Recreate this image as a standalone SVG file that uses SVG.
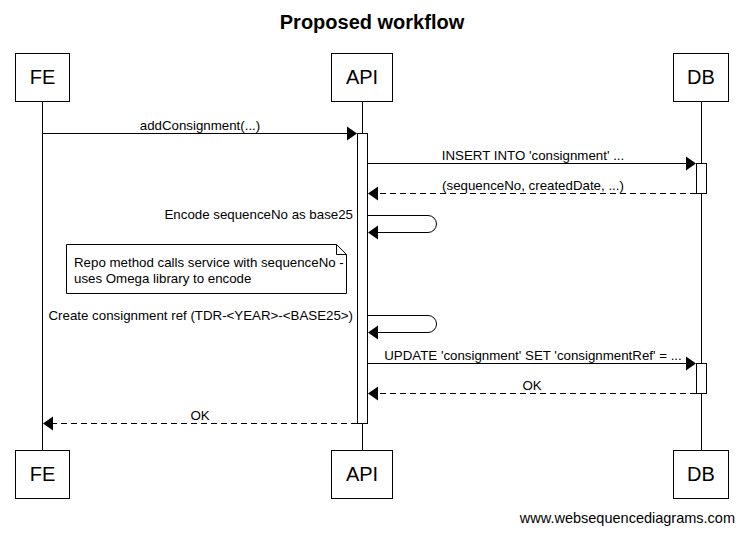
<svg xmlns="http://www.w3.org/2000/svg" width="743" height="533" viewBox="0 0 743 533">
<style>
text{font-family:"Liberation Sans",Arial,sans-serif;fill:#000}
.p{font-size:20px;text-anchor:middle}
.m{font-size:13.3px}
.box{fill:#fff;stroke:#000;stroke-width:1}
.ll{stroke:#000;stroke-width:1}
.s{stroke:#000;stroke-width:1;fill:none}
.d{stroke:#000;stroke-width:1;fill:none;stroke-dasharray:6,4}
.ah{fill:#000}
</style>
<rect width="743" height="533" fill="#fff"/>
<text x="372" y="29" style="font-size:20px;font-weight:bold;text-anchor:middle">Proposed workflow</text>
<g id="lifelines">
<line class="ll" x1="42.5" y1="101" x2="42.5" y2="450"/>
<line class="ll" x1="362.5" y1="101" x2="362.5" y2="450"/>
<line class="ll" x1="701.5" y1="101" x2="701.5" y2="450"/>
</g>
<g id="FE">
<rect class="box" x="15.5" y="53.5" width="54" height="48"/>
<text class="p" x="42.5" y="84">FE</text>
<rect class="box" x="15.5" y="450.5" width="54" height="48"/>
<text class="p" x="42.5" y="481">FE</text>
</g>
<g id="API">
<rect class="box" x="331.5" y="53.5" width="61" height="48"/>
<text class="p" x="362" y="84">API</text>
<rect class="box" x="331.5" y="450.5" width="61" height="48"/>
<text class="p" x="362" y="481">API</text>
<rect class="box" x="357.5" y="133.5" width="10" height="290"/>
</g>
<g id="DB">
<rect class="box" x="673.5" y="53.5" width="55" height="48"/>
<text class="p" x="701" y="84">DB</text>
<rect class="box" x="673.5" y="450.5" width="55" height="48"/>
<text class="p" x="701" y="481">DB</text>
<rect class="box" x="696.5" y="163.5" width="10" height="30"/>
<rect class="box" x="696.5" y="363.5" width="10" height="30"/>
</g>
<g id="note">
<path class="box" d="M66.5 244.5 H336.5 L346.5 254.5 V293.5 H66.5 Z"/>
<path class="s" d="M336.5 244.5 V254.5 H346.5"/>
<text class="m" x="74" y="267">Repo method calls service with sequenceNo -</text>
<text class="m" x="74" y="283">uses Omega library to encode</text>
</g>
<g id="connectors">
<line class="s" x1="42.5" y1="133.5" x2="347" y2="133.5"/>
<polygon class="ah" points="357,133.5 347,126.5 347,140.5"/>
<text class="m" x="200" y="130" text-anchor="middle">addConsignment(...)</text>

<line class="s" x1="367.5" y1="163.5" x2="686" y2="163.5"/>
<polygon class="ah" points="696,163.5 686,156.5 686,170.5"/>
<text class="m" x="533" y="160" text-anchor="middle">INSERT INTO 'consignment' ...</text>

<line class="d" x1="696" y1="193.5" x2="378" y2="193.5"/>
<polygon class="ah" points="368,193.5 378,186.5 378,200.5"/>
<text class="m" x="533" y="190" text-anchor="middle">(sequenceNo, createdDate, ...)</text>

<path class="s" d="M367.5 215.5 H428 A7.5 7.5 0 0 1 428 232.5 H378"/>
<polygon class="ah" points="368,232.5 378,225.5 378,239.5"/>
<text class="m" x="353" y="219" text-anchor="end">Encode sequenceNo as base25</text>

<path class="s" d="M367.5 315.5 H428 A7.5 7.5 0 0 1 428 332.5 H378"/>
<polygon class="ah" points="368,332.5 378,325.5 378,339.5"/>
<text class="m" x="353" y="320" text-anchor="end">Create consignment ref (TDR-&lt;YEAR&gt;-&lt;BASE25&gt;)</text>

<line class="s" x1="367.5" y1="363.5" x2="686" y2="363.5"/>
<polygon class="ah" points="696,363.5 686,356.5 686,370.5"/>
<text class="m" x="533" y="360" text-anchor="middle">UPDATE 'consignment' SET 'consignmentRef' = ...</text>

<line class="d" x1="696" y1="393.5" x2="378" y2="393.5"/>
<polygon class="ah" points="368,393.5 378,386.5 378,400.5"/>
<text class="m" x="532" y="390" text-anchor="middle">OK</text>

<line class="d" x1="357" y1="423.5" x2="53" y2="423.5"/>
<polygon class="ah" points="43,423.5 53,416.5 53,430.5"/>
<text class="m" x="200" y="420" text-anchor="middle">OK</text>
</g>
<text x="735" y="523" style="font-size:14.5px;text-anchor:end">www.websequencediagrams.com</text>
</svg>
